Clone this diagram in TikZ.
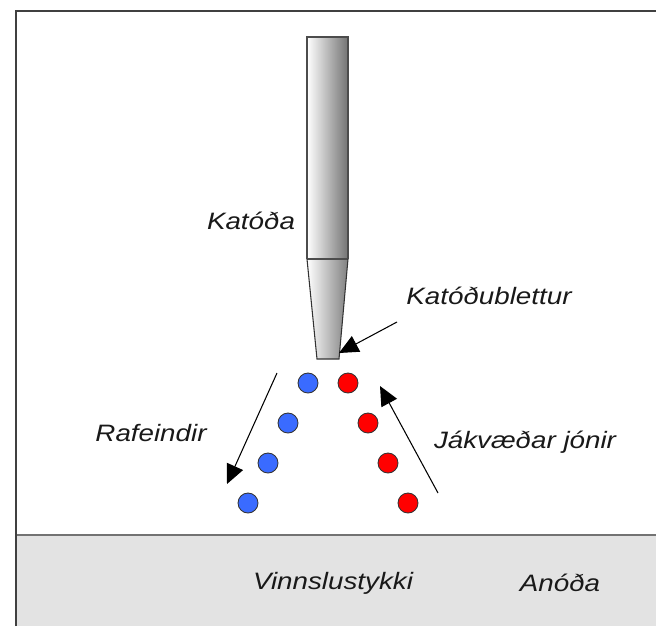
\documentclass[tikz,border=0pt]{standalone}
\usepackage{fontspec}
\newfontfamily\labelfont{Liberation Sans}[FakeStretch=1.17]
\usetikzlibrary{arrows.meta}
\definecolor{ebeam}{HTML}{3A6BFF}
\definecolor{ionred}{HTML}{FF0000}
\definecolor{anodegray}{HTML}{E3E3E3}
\newlength{\unitpx}
\setlength{\unitpx}{0.02cm}
\tikzset{
	lbl/.style={font=\labelfont\itshape\fontsize{13.5}{16}\selectfont, text=black!90, inner sep=0pt},
	electron/.style={circle, draw=black!80, fill=ebeam, minimum size=20\unitpx, inner sep=0pt, line width=0.5pt},
	ion/.style={electron, fill=ionred},
	flow/.style={line width=0.6pt, -{Triangle[length=11pt, width=10pt]}},
}

\begin{document}
\begin{tikzpicture}[x=0.02cm, y=-0.02cm]
		%%%%% START %%%%%
		\useasboundingbox (0, 0) rectangle (656, 626);
		
		% workpiece (anode)
		\fill[anodegray] (16, 535) rectangle (656, 626);
		\draw[black!55, line width=1.2pt] (16, 535) -- (656, 535);
		
		% frame
		\draw[black!75, line width=1.2pt] (16, 626) -- (16, 11) -- (656, 11);
		
		% cathode: rod and tapered tip
		\shade[left color=white, right color=black!55] (307, 37) rectangle (348, 259);
		\shade[left color=white, right color=black!50] (307, 259) -- (348, 259) -- (339, 359) -- (317, 359) -- cycle;
		\draw[black!70, line width=0.8pt] (307, 259) -- (307, 37) -- (348, 37) -- (348, 259);
		\draw[black!70, line width=0.8pt] (307, 259) -- (348, 259);
		\draw[black!80, line width=0.6pt] (307, 259) -- (317, 359) -- (339, 359) -- (348, 259);
		
		% electrons and positive ions
		\node[electron] (e1) at (308, 383) {};
		\node[electron] (e2) at (288, 423) {};
		\node[electron] (e3) at (268, 463) {};
		\node[electron] (e4) at (248, 503) {};
		\node[ion] (i1) at (348, 383) {};
		\node[ion] (i2) at (368, 423) {};
		\node[ion] (i3) at (388, 463) {};
		\node[ion] (i4) at (408, 503) {};
		
		% arrows
		\coordinate (spotTail) at (397, 322);
		\coordinate (spot) at (339, 353);
		\coordinate (eTail) at (277, 373);
		\coordinate (eHead) at (227, 484);
		\coordinate (iTail) at (438, 493);
		\coordinate (iHead) at (380, 386);
		\draw[flow] (spotTail) -- (spot);
		\draw[flow] (eTail) -- (eHead);
		\draw[flow] (iTail) -- (iHead);
		
		% labels
		\node[lbl] (cathode) at (251, 221) {Katóða};
		\node[lbl] (spotlbl) at (489, 296) {Katóðublettur};
		\node[lbl] (elbl) at (151, 433) {Rafeindir};
		\node[lbl] (ilbl) at (525, 442) {Jákvæðar jónir};
		\node[lbl] (work) at (333, 583) {Vinnslustykki};
		\node[lbl] (anode) at (560, 583) {Anóða};
		%%%%% END %%%%%
	\end{tikzpicture}
\end{document}
